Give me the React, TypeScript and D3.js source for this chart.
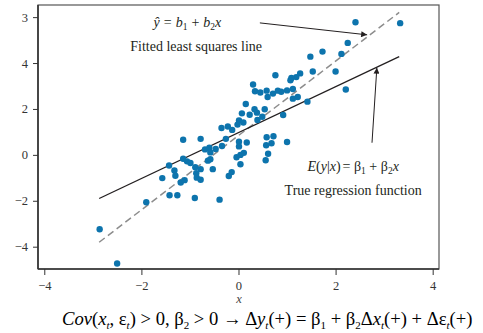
import { scaleLinear } from "d3";

// scatter sample (x, y)
const xs = [
  2.4, 3.32, 2.24, 2.11, 1.72, 1.47, 1.99, 1.52, 1.26, 1.18, 1.08, 1.06, 0.75, 1.11, 0.99, 0.87,
  0.8, 0.7, 1.21, 1.11, 2.2, 1.41, 0.29, 0.33, 0.44, 0.57, 0.59, 0.14, 0.32, 0.22, 0.37, 0.53,
  0.48, 0.0, 0.09, 0.91, -0.36, -0.23, -0.14, -0.03, 0.38, 0.06, -1.15, -0.79, -0.27, -0.7,
  -0.61, -0.59, -0.48, -0.35, -0.05, 0.03, 0.0, 0.0, 0.1, 0.03, 0.16, 0.57, 0.71, 0.67, 0.56,
  0.6, 0.55, 0.99, -1.44, -1.33, -1.31, -1.15, -1.07, -1.0, -0.9, -0.79, -0.64, -0.59, -0.54,
  -0.88, -0.87, -0.79, -1.58, -1.2, -1.12, -0.21, -0.15, -1.43, -1.27, -0.91, -0.4, -1.91,
  -2.87, -2.51,
];
const ys = [
  5.8, 5.76, 4.9, 4.42, 4.52, 4.3, 3.65, 3.65, 3.57, 3.41, 3.37, 3.27, 3.49, 2.89, 2.83, 2.77,
  2.82, 2.69, 2.54, 2.47, 2.87, 2.34, 3.09, 2.79, 2.74, 2.82, 2.54, 2.24, 2.01, 1.77, 1.86, 2.01,
  1.68, 1.52, 1.43, 1.76, 1.19, 1.26, 1.11, 1.34, 1.54, 1.83, 0.68, 0.72, 0.72, 0.26,
  0.33, 0.13, 0.28, 0.41, -0.08, 0.02, 0.59, 0.39, 0.11, -0.39, 0.56, 0.79, 0.83, 0.53, 0.44,
  0.07, -0.21, 0.58, -0.44, -0.66, -0.89, -0.15, -0.26, -0.33, -0.52, -0.6, -0.23, -0.17, -0.6,
  -0.78, -0.97, -1.06, -0.99, -1.18, -1.08, -0.9, -0.73, -1.74, -1.74, -1.86, -1.93, -2.04,
  -3.22, -4.71,
];

const xTicks = [-4, -2, 0, 2, 4];
const xTickLabels = ["\u22124", "\u22122", "0", "2", "4"];
const yTicks = [-4, -2, 0, 2, 4, 6];
const yTickLabels = ["\u22124", "\u22122", "0", "2", "4", "3"];

// line coefficients and the x span they are drawn over
const lineSpan = [-2.88, 3.3];
const trueCoef = [1.0, 1.0];
const fitCoef = [0.88, 1.62];

const W = 483;
const H = 333;
const serif = "'Liberation Serif', 'Times New Roman', serif";
const ink = "#231f20";

export default function App() {
  const x = scaleLinear().domain([-4.14, 4.12]).range([38, 439]);
  const y = scaleLinear().domain([-4.95, 6.55]).range([269, 5]);
  const [x0, x1] = x.range();
  const [yb, yt] = y.range();

  const lineEnds = (c: number[]) =>
    lineSpan.map((v) => [x(v), y(c[0] + c[1] * v)] as [number, number]);
  const t = lineEnds(trueCoef);
  const f = lineEnds(fitCoef);

  return (
    <svg
      width={W}
      height={H}
      style={{ position: "absolute", left: 0, top: 0, background: "#fff" }}
      fontFamily={serif}
    >
      <defs>
        <marker id="ah" viewBox="0 0 10 10" refX="10" refY="5" markerWidth="10" markerHeight="6" orient="auto" markerUnits="userSpaceOnUse">
          <path d="M0,0 L10,5 L0,10 z" fill={ink} />
        </marker>
      </defs>

      {/* frame */}
      <rect x={x0} y={yt} width={x1 - x0} height={yb - yt} fill="none" stroke="#555" strokeWidth={1.2} />
      <line x1={x0} x2={x0} y1={yt} y2={yb} stroke="#333" strokeWidth={1.6} />
      <line x1={x0} x2={x1} y1={yb} y2={yb} stroke="#333" strokeWidth={1.6} />

      {/* y axis */}
      {yTicks.map((v, i) => (
        <g key={"y" + v}>
          <line x1={x0 - 5} x2={x0} y1={y(v)} y2={y(v)} stroke="#333" strokeWidth={1} />
          <text x={x0 - 10} y={y(v) + 4} textAnchor="end" fontSize={12.5} fill="#333">
            {yTickLabels[i]}
          </text>
        </g>
      ))}

      {/* x axis */}
      {xTicks.map((v, i) => (
        <g key={"x" + v}>
          <line x1={x(v)} x2={x(v)} y1={yb} y2={yb + 6} stroke="#333" strokeWidth={1} />
          <text x={x(v)} y={yb + 21} textAnchor="middle" fontSize={12.5} fill="#333">
            {xTickLabels[i]}
          </text>
        </g>
      ))}
      <text x={x(0)} y={yb + 34} textAnchor="middle" fontSize={12.5} fontStyle="italic" fill="#444">
        x
      </text>

      {/* lines */}
      <line x1={f[0][0]} y1={f[0][1]} x2={f[1][0]} y2={f[1][1]} stroke="#8c8c8c" strokeWidth={1.5} strokeDasharray="7 4" />
      <line x1={t[0][0]} y1={t[0][1]} x2={t[1][0]} y2={t[1][1]} stroke={ink} strokeWidth={1.3} />

      {/* points */}
      {xs.map((v, i) => (
        <circle key={i} cx={x(v)} cy={y(ys[i])} r={3.2} fill="#0d74ad" />
      ))}

      {/* annotations */}
      <line x1={x(0.43)} y1={y(5.77)} x2={x(2.64)} y2={y(5.25)} stroke={ink} strokeWidth={1} markerEnd="url(#ah)" />
      <line x1={x(2.74)} y1={y(0.55)} x2={x(2.84)} y2={y(3.82)} stroke={ink} strokeWidth={1} markerEnd="url(#ah)" />

      <text x={x(-1.76)} y={y(5.57)} fontSize={14} fill={ink}>
        <tspan fontStyle="italic">ŷ</tspan>
        <tspan dx={4}>=</tspan>
        <tspan dx={4} fontStyle="italic">b</tspan>
        <tspan fontSize={9.5} dy={3}>1</tspan>
        <tspan dy={-3} dx={4}>+</tspan>
        <tspan dx={4} fontStyle="italic">b</tspan>
        <tspan fontSize={9.5} dy={3}>2</tspan>
        <tspan fontStyle="italic" dy={-3}>x</tspan>
      </text>
      <text x={x(-2.24)} y={y(4.56)} fontSize={14} fill={ink}>
        Fitted least squares line
      </text>

      <text x={x(1.41)} y={y(-0.68)} fontSize={14} fill={ink}>
        <tspan fontStyle="italic">E</tspan>(<tspan fontStyle="italic">y</tspan>|<tspan fontStyle="italic">x</tspan>)
        <tspan dx={2}>= β</tspan>
        <tspan fontSize={9.5} dy={3}>1</tspan>
        <tspan dy={-3}> + β</tspan>
        <tspan fontSize={9.5} dy={3}>2</tspan>
        <tspan fontStyle="italic" dy={-3}>x</tspan>
      </text>
      <text x={x(0.94)} y={y(-1.72)} fontSize={14} fill={ink}>
        True regression function
      </text>

      {/* formula under the chart */}
      <text x={62} y={325} fontSize={18.6} fill="#000">
        <tspan fontStyle="italic">Cov</tspan>(<tspan fontStyle="italic">x</tspan>
        <tspan fontSize={11} dy={4} fontStyle="italic">t</tspan>
        <tspan dy={-4}>, ε</tspan>
        <tspan fontSize={11} dy={4} fontStyle="italic">t</tspan>
        <tspan dy={-4}>) &gt; 0, β</tspan>
        <tspan fontSize={11} dy={4}>2</tspan>
        <tspan dy={-4}> &gt; 0 → Δ</tspan>
        <tspan fontStyle="italic">y</tspan>
        <tspan fontSize={11} dy={4} fontStyle="italic">t</tspan>
        <tspan dy={-4}>(+) = β</tspan>
        <tspan fontSize={11} dy={4}>1</tspan>
        <tspan dy={-4}> + β</tspan>
        <tspan fontSize={11} dy={4}>2</tspan>
        <tspan dy={-4}>Δ</tspan>
        <tspan fontStyle="italic">x</tspan>
        <tspan fontSize={11} dy={4} fontStyle="italic">t</tspan>
        <tspan dy={-4}>(+) + Δε</tspan>
        <tspan fontSize={11} dy={4} fontStyle="italic">t</tspan>
        <tspan dy={-4}>(+)</tspan>
      </text>
    </svg>
  );
}
